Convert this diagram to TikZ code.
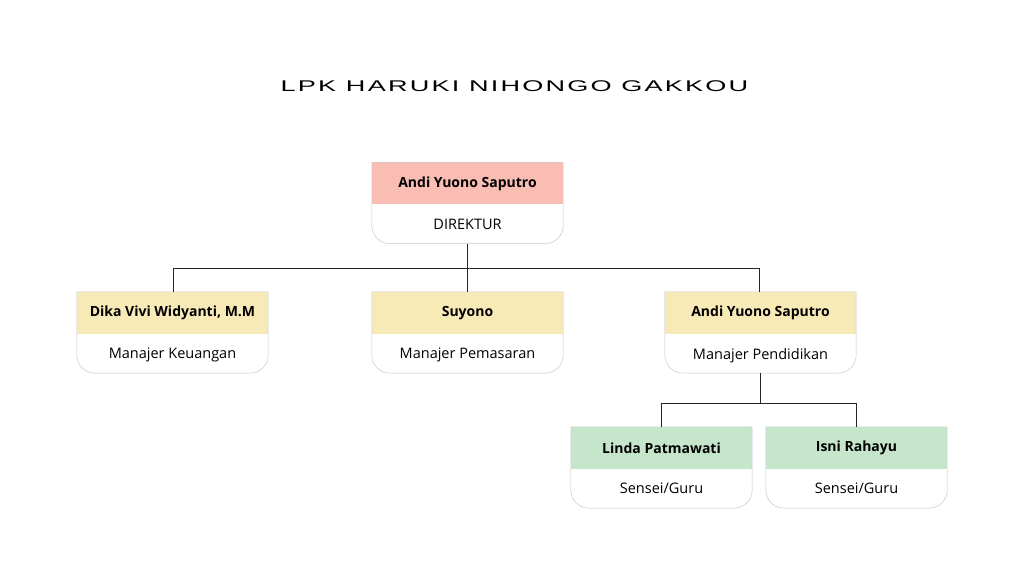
\documentclass[tikz,border=0pt]{standalone}
\usepackage{fontspec}
\setmainfont{Open Sans}
\newfontfamily\titlefont[LetterSpace=8]{Liberation Sans}
\definecolor{pinkband}{HTML}{F9BDB4}
\definecolor{yellowband}{HTML}{F8EAB7}
\definecolor{greenband}{HTML}{C5E6CB}
\definecolor{outl}{HTML}{C8C8C8}
\begin{document}
\begin{tikzpicture}[x=1pt,y=1pt,
  band/.style={rectangle, inner sep=0pt, minimum height=42pt, fill=#1,
    font=\fontsize{14}{16}\selectfont\bfseries},
  role/.style={rectangle, inner sep=0pt, minimum height=38.5pt, text depth=0pt,
    font=\fontsize{14.5}{16}\selectfont},
  outline/.style={draw=outl, line width=0.5pt},
  conn/.style={draw=black!85, line width=0.9pt}
]
\useasboundingbox (0,0) rectangle (1024,586);
\fill[white] (0,0) rectangle (1024,586);

\node[font=\titlefont\fontsize{15.5}{18}\selectfont, xscale=1.75, transform shape] (title) at (514.5,500) {LPK HARUKI NIHONGO GAKKOU};

% Director
\node[band=pinkband, minimum width=191pt] (dir) at (467.5,402.5) {Andi Yuono Saputro};
\node[role, minimum width=191pt, anchor=north] (dirr) at (dir.south) {DIREKTUR};
% Row 2
\node[band=yellowband, minimum width=191pt] (keu) at (172.5,273) {Dika Vivi Widyanti, M.M};
\node[role, minimum width=191pt, anchor=north] (keur) at (keu.south) {Manajer Keuangan};
\node[band=yellowband, minimum width=191pt] (pem) at (467.5,273) {Suyono};
\node[role, minimum width=191pt, anchor=north] (pemr) at (pem.south) {Manajer Pemasaran};
\node[band=yellowband, minimum width=191pt] (pen) at (760.5,273) {Andi Yuono Saputro};
\node[role, minimum width=191pt, anchor=north] (penr) at (pen.south) {Manajer Pendidikan};
% Row 3
\node[band=greenband, minimum width=181pt] (lin) at (661.5,138) {Linda Patmawati};
\node[role, minimum width=181pt, anchor=north] (linr) at (lin.south) {Sensei/Guru};
\node[band=greenband, minimum width=181pt] (isn) at (856.5,138) {Isni Rahayu};
\node[role, minimum width=181pt, anchor=north] (isnr) at (isn.south) {Sensei/Guru};

% outlines with rounded bottom corners
\foreach \a/\b in {dir/dirr,keu/keur,pem/pemr,pen/penr,lin/linr,isn/isnr}{
  \draw[outline] (\a.north west) -- (\a.north east) -- ([yshift=18pt]\b.south east)
    arc[start angle=0,end angle=-90,radius=18pt] -- ([xshift=18pt]\b.south west)
    arc[start angle=270,end angle=180,radius=18pt] -- cycle;
}

% connectors
\coordinate (j1) at ([yshift=-25pt]dirr.south);
\coordinate (j2) at ([yshift=-30pt]penr.south);
\draw[conn] (dirr.south) -- (pem.north);
\draw[conn] ([xshift=0.5pt]keu.north) |- (j1) -| ([xshift=-1.5pt]pen.north);
\draw[conn] (penr.south) -- (j2);
\draw[conn] (lin.north) |- (j2) -| (isn.north);
\end{tikzpicture}
\end{document}
